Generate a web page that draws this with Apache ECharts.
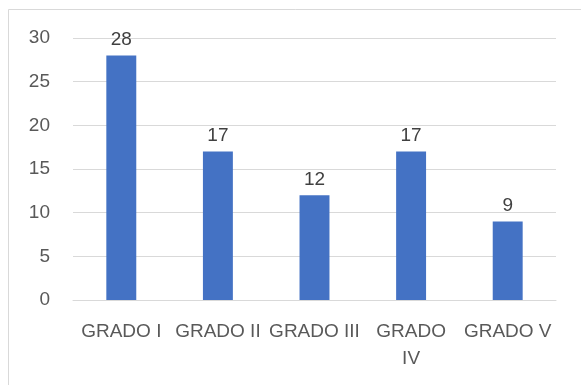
<!DOCTYPE html>
<html>
<head>
<meta charset="utf-8">
<script src="https://cdn.jsdelivr.net/npm/echarts@6/dist/echarts.min.js"></script>
<style>
  html, body { margin: 0; padding: 0; background: #fff; }
  #chart { width: 581px; height: 385px; }
</style>
</head>
<body>
<div id="chart"></div>
<script>
// Cases by grade
const categories = ['GRADO I', 'GRADO II', 'GRADO III', 'GRADO IV', 'GRADO V'];
const tickLabels = ['GRADO I', 'GRADO II', 'GRADO III', 'GRADO\nIV', 'GRADO V'];
const values = [28, 17, 12, 17, 9];
const yTicks = [0, 5, 10, 15, 20, 25, 30];

const FONT = 'Liberation Sans';
const chart = echarts.init(document.getElementById('chart'), null, { renderer: 'canvas' });

chart.setOption({
  animation: false,
  backgroundColor: '#ffffff',
  textStyle: { fontFamily: FONT },
  graphic: [{
    type: 'rect',
    shape: { x: 8.5, y: 9.5, width: 620, height: 420 },
    style: { fill: 'none', stroke: '#d9d9d9', lineWidth: 1 },
    silent: true
  }],
  grid: { left: 73, right: 25, top: 38, bottom: 85, containLabel: false },
  xAxis: {
    type: 'category',
    data: categories,
    axisLine: { show: true, lineStyle: { color: '#d9d9d9', width: 1 } },
    axisTick: { show: false },
    axisLabel: {
      color: '#595959',
      fontSize: 19,
      fontFamily: FONT,
      margin: 18,
      lineHeight: 27,
      interval: 0,
      formatter: (v, i) => tickLabels[i]
    }
  },
  yAxis: {
    type: 'value',
    min: yTicks[0],
    max: yTicks[yTicks.length - 1],
    interval: 5,
    axisLine: { show: false },
    axisTick: { show: false },
    splitLine: { lineStyle: { color: '#d9d9d9', width: 1 } },
    axisLabel: {
      color: '#595959',
      fontSize: 19,
      fontFamily: FONT,
      margin: 23
    }
  },
  series: [{
    type: 'bar',
    data: values,
    barWidth: '31%',
    itemStyle: { color: '#4472c4' },
    label: {
      show: true,
      position: 'top',
      distance: 6,
      color: '#404040',
      fontSize: 19,
      fontFamily: FONT
    }
  }]
});
</script>
</body>
</html>
